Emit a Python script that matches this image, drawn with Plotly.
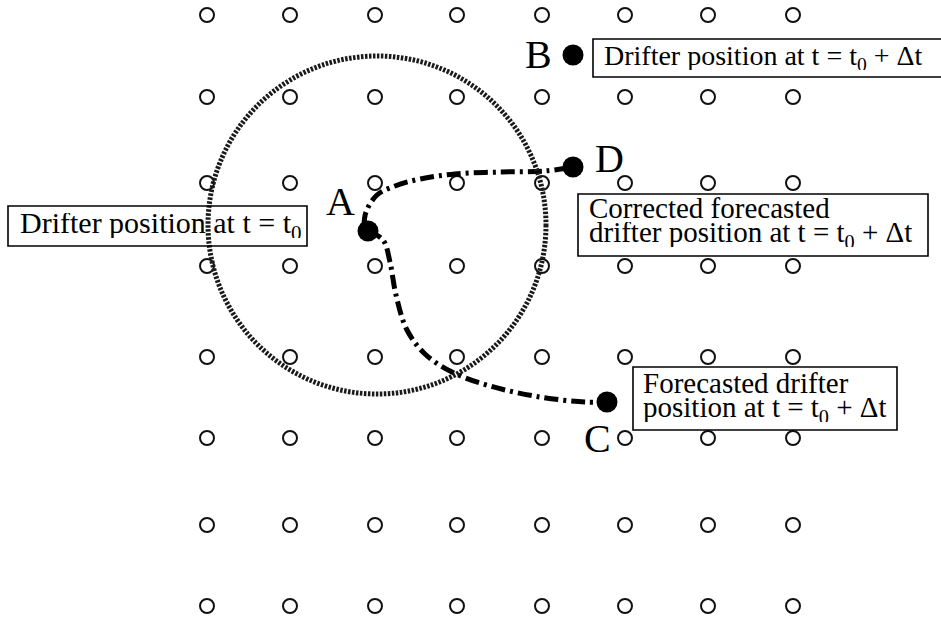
import plotly.graph_objects as go

# ---- data (diagram coordinates, pixel-like units) ----
grid_cols = [207, 290, 375, 457, 542, 625, 708, 793]
grid_rows = [15, 97, 183, 266, 357, 438, 525, 606]

point_names = ["A", "B", "C", "D"]
point_x = [368, 573, 607, 573]
point_y = [231, 55, 402, 167]

letter_x = [340, 538, 597, 609]
letter_y = [201, 54, 438, 158]

# search radius circle around A
circle_cx = 377
circle_cy = 225
circle_r = 169

# trajectory A -> D (corrected forecast)
path_ad_x = [364, 366, 377, 395, 420, 455, 500, 545, 573]
path_ad_y = [226, 212, 195, 186, 179, 174, 172, 171, 167]
# trajectory A -> C (forecast)
path_ac_x = [368, 383, 390, 396, 407, 425, 452, 490, 540, 585, 607]
path_ac_y = [231, 240, 262, 295, 330, 354, 372, 386, 397, 402, 402]

# label boxes: text lines, text anchor, box extents
box_lines = [
    ["Drifter position at t = t<sub>0</sub> + Δt"],
    ["Drifter position at t = t<sub>0</sub>"],
    ["Corrected forecasted", "drifter position at t = t<sub>0</sub> + Δt"],
    ["Forecasted drifter", "position at t = t<sub>0</sub> + Δt"],
]
box_font = [28, 30, 29, 29]
box_text_x = [603, 19, 588, 642]
box_text_y = [[57], [225], [207, 234], [382, 409]]
box_x0 = [593, 8, 578, 633]
box_x1 = [960, 307, 928, 897]
box_y0 = [39, 206, 194, 367]
box_y1 = [77, 246, 256, 430]

W, H = 941, 618
FONT = "Liberation Serif, Times New Roman, DejaVu Serif, serif"

fig = go.Figure()

# grid of open circles
gx = [c for r in grid_rows for c in grid_cols]
gy = [r for r in grid_rows for c in grid_cols]
fig.add_trace(go.Scatter(
    x=gx, y=gy, mode="markers",
    marker=dict(symbol="circle-open", size=14, color="#111111", line=dict(width=2)),
    hoverinfo="skip", showlegend=False))

# trajectories
for px, py in [(path_ad_x, path_ad_y), (path_ac_x, path_ac_y)]:
    fig.add_trace(go.Scatter(
        x=px, y=py, mode="lines",
        line=dict(color="black", width=5, shape="spline", dash="14px,5px,3px,5px"),
        hoverinfo="skip", showlegend=False))

# filled drifter points
fig.add_trace(go.Scatter(
    x=point_x, y=point_y, mode="markers",
    marker=dict(symbol="circle", size=21, color="black"),
    hoverinfo="skip", showlegend=False))

shapes = []
shapes.append(dict(type="circle", xref="x", yref="y",
                   x0=circle_cx - circle_r, x1=circle_cx + circle_r,
                   y0=circle_cy - circle_r, y1=circle_cy + circle_r,
                   line=dict(color="#1a1a1a", width=5, dash="2.5px,1.5px"),
                   layer="above"))
for i in range(len(box_lines)):
    shapes.append(dict(type="rect", xref="x", yref="y",
                       x0=box_x0[i], x1=box_x1[i], y0=box_y0[i], y1=box_y1[i],
                       line=dict(color="black", width=1.6), fillcolor="rgba(0,0,0,0)",
                       layer="above"))

annotations = []
for name, lx, ly in zip(point_names, letter_x, letter_y):
    annotations.append(dict(x=lx, y=ly, xref="x", yref="y", text=name, showarrow=False,
                            xanchor="center", yanchor="middle",
                            font=dict(family=FONT, size=40, color="black")))
for i, lines in enumerate(box_lines):
    for line, ty in zip(lines, box_text_y[i]):
        annotations.append(dict(x=box_text_x[i], y=ty, xref="x", yref="y", text=line,
                                showarrow=False, xanchor="left", yanchor="middle",
                                height=25, valign="middle", borderpad=0,
                                font=dict(family=FONT, size=box_font[i], color="black")))

fig.update_layout(
    width=W, height=H,
    margin=dict(l=0, r=0, t=0, b=0),
    paper_bgcolor="white", plot_bgcolor="white",
    xaxis=dict(range=[0, W], visible=False, fixedrange=True),
    yaxis=dict(range=[H, 0], visible=False, fixedrange=True),
    shapes=shapes, annotations=annotations,
    showlegend=False,
)

fig.write_html("out.html")
